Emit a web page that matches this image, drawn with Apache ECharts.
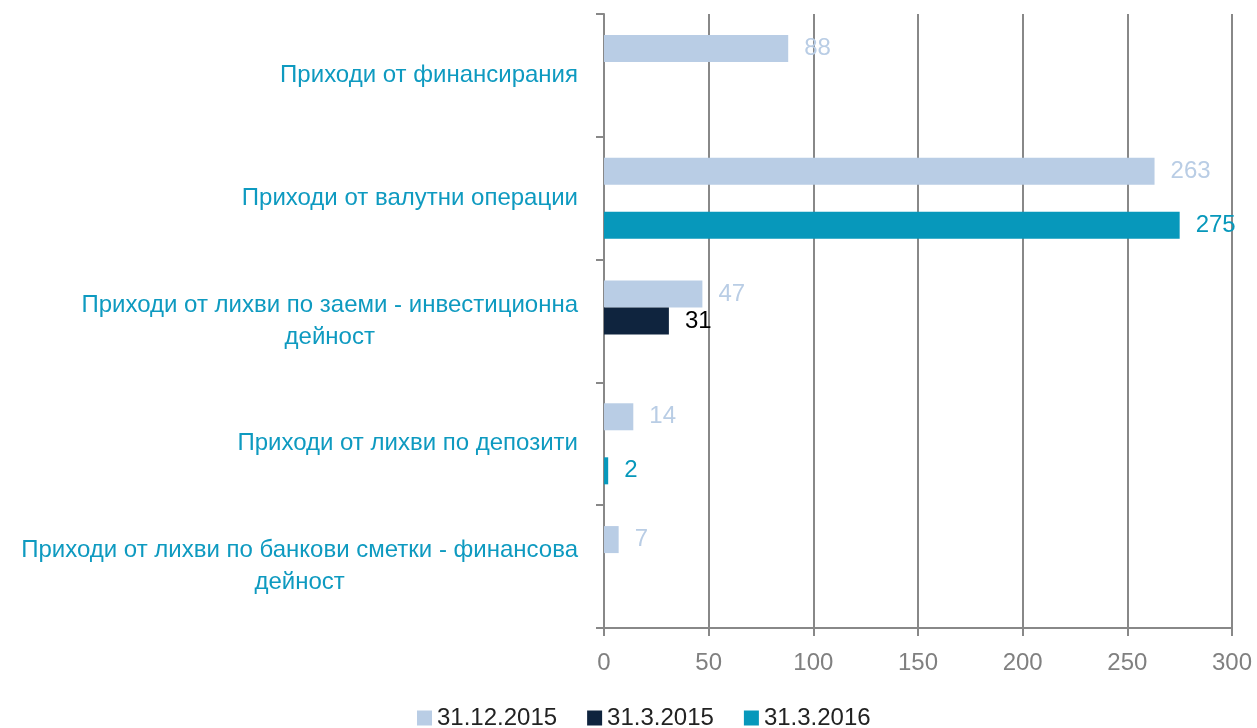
<!DOCTYPE html>
<html>
<head>
<meta charset="utf-8">
<script src="https://cdn.jsdelivr.net/npm/echarts@6/dist/echarts.min.js"></script>
<style>
  html, body { margin: 0; padding: 0; background: #fff; }
  #chart { width: 1257px; height: 728px; }
</style>
</head>
<body>
<div id="chart"></div>
<script>
// categories top to bottom
const categories = [
  'Приходи от финансирания',
  'Приходи от валутни операции',
  'Приходи от лихви по заеми - инвестиционна\nдейност',
  'Приходи от лихви по депозити',
  'Приходи от лихви по банкови сметки - финансова\nдейност'
];
const seriesNames = ['31.12.2015', '31.3.2015', '31.3.2016'];
const dec2015 = [88, 263, 47, 14, 7];
const mar2015 = [null, null, 31, null, null];
const mar2016 = [null, 275, null, 2, null];
const xTicks = [0, 50, 100, 150, 200, 250, 300];

const colors = ['#b9cde5', '#0f243e', '#0798bb'];
const labelColors = ['#b9cde5', '#000000', '#0798bb'];
const font = '"Liberation Sans", Arial, sans-serif';

const chart = echarts.init(document.getElementById('chart'));

const makeSeries = (name, data, i) => ({
  name: name,
  type: 'bar',
  data: data,
  barGap: '0%',
  barCategoryGap: '34%',
  itemStyle: { color: colors[i] },
  label: {
    show: true,
    position: 'right',
    distance: 16,
    color: labelColors[i],
    fontFamily: font,
    fontSize: 24
  }
});

const option = {
  animation: false,
  grid: { left: 604, right: 25, top: 14, bottom: 100, containLabel: false },
  legend: {
    top: 701,
    left: 412,
    itemWidth: 15,
    itemHeight: 15,
    itemGap: 30,
    icon: 'rect',
    textStyle: { fontFamily: font, fontSize: 24, color: '#222' },
    data: seriesNames
  },
  xAxis: {
    type: 'value',
    min: xTicks[0],
    max: xTicks[xTicks.length - 1],
    interval: 50,
    axisLine: { show: true, lineStyle: { color: '#888', width: 2 } },
    axisTick: { show: true, length: 8, lineStyle: { color: '#888', width: 2 } },
    splitLine: { show: true, lineStyle: { color: '#888', width: 2 } },
    axisLabel: { margin: 23, color: '#808080', fontFamily: font, fontSize: 24 }
  },
  yAxis: {
    type: 'category',
    inverse: true,
    data: categories,
    axisLine: { show: true, lineStyle: { color: '#888', width: 2 } },
    axisTick: { show: true, length: 8, lineStyle: { color: '#888', width: 2 } },
    axisLabel: {
      margin: 26,
      lineHeight: 32,
      formatter: (v) => v.split('\n').map(s => '{c|' + s + '}').join('\n'),
      rich: {
        c: { align: 'center', color: '#0e9ac0', fontFamily: font, fontSize: 24, lineHeight: 32 }
      }
    }
  },
  series: [
    makeSeries(seriesNames[0], dec2015, 0),
    makeSeries(seriesNames[1], mar2015, 1),
    makeSeries(seriesNames[2], mar2016, 2)
  ]
};

chart.setOption(option);
</script>
</body>
</html>
